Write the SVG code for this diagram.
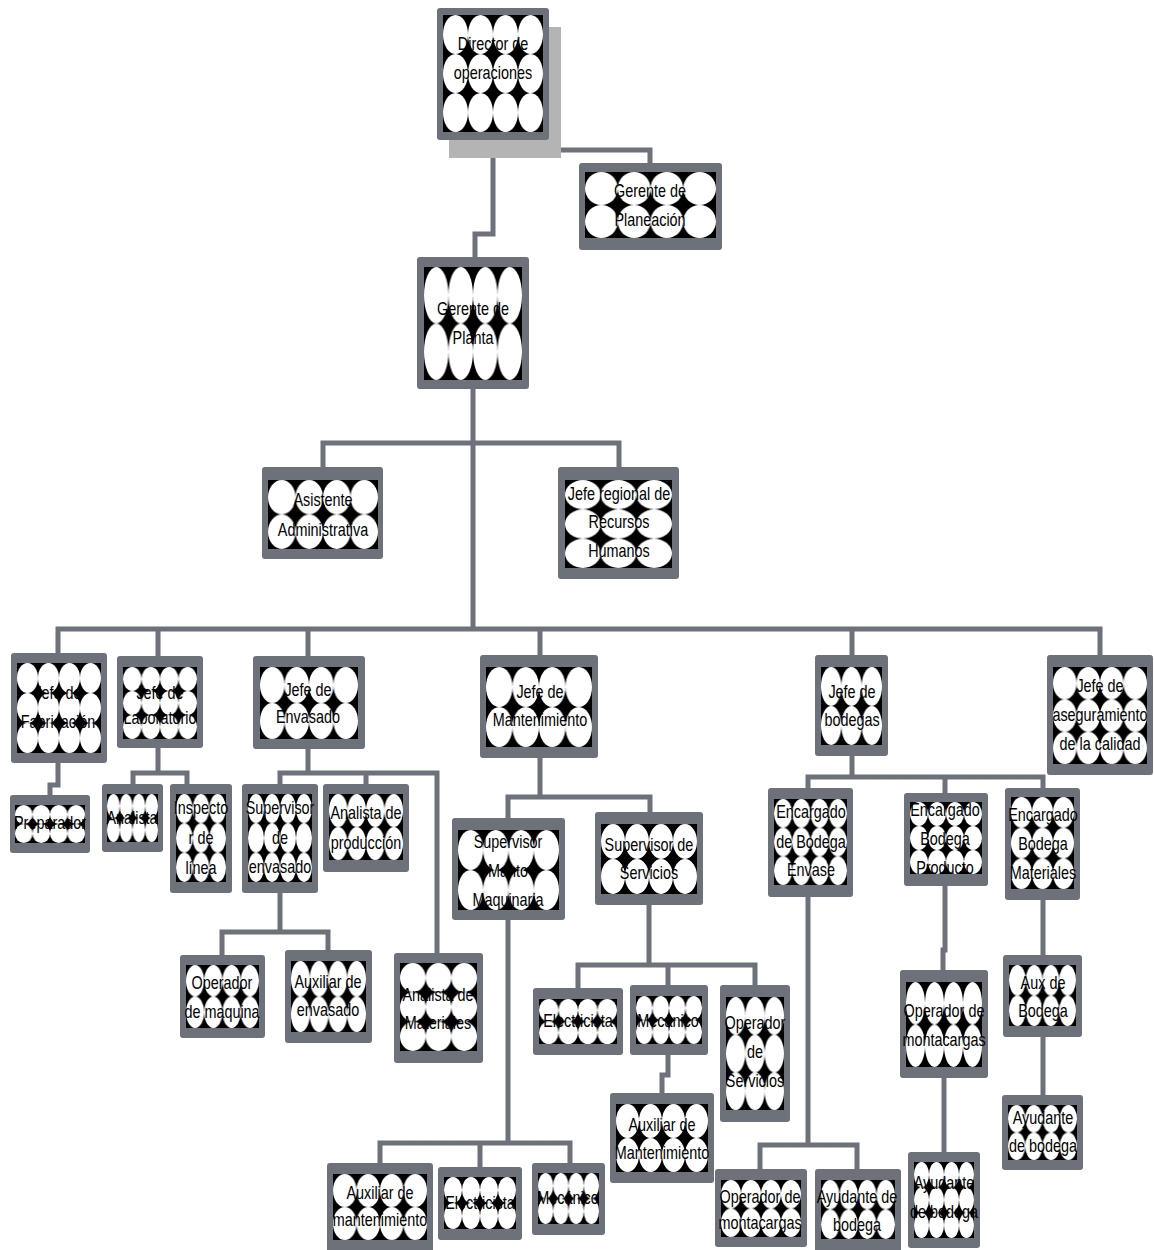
<svg xmlns="http://www.w3.org/2000/svg" width="1154" height="1250" viewBox="0 0 1154 1250">
<defs>
<pattern id="p42" patternUnits="objectBoundingBox" patternContentUnits="objectBoundingBox" width="0.25" height="0.5"><rect width="0.25" height="0.5" fill="#000"/><ellipse cx="0.125" cy="0.25" rx="0.125" ry="0.25" fill="#fff"/></pattern>
<pattern id="p33" patternUnits="objectBoundingBox" patternContentUnits="objectBoundingBox" width="0.3334" height="0.3334"><rect width="0.3334" height="0.3334" fill="#000"/><ellipse cx="0.1667" cy="0.1667" rx="0.1667" ry="0.1667" fill="#fff"/></pattern>
<pattern id="p43" patternUnits="objectBoundingBox" patternContentUnits="objectBoundingBox" width="0.25" height="0.3334"><rect width="0.25" height="0.3334" fill="#000"/><ellipse cx="0.125" cy="0.1667" rx="0.125" ry="0.1667" fill="#fff"/></pattern>
<pattern id="p32" patternUnits="objectBoundingBox" patternContentUnits="objectBoundingBox" width="0.3334" height="0.5"><rect width="0.3334" height="0.5" fill="#000"/><ellipse cx="0.1667" cy="0.25" rx="0.1667" ry="0.25" fill="#fff"/></pattern>
<pattern id="p44" patternUnits="objectBoundingBox" patternContentUnits="objectBoundingBox" width="0.25" height="0.25"><rect width="0.25" height="0.25" fill="#000"/><ellipse cx="0.125" cy="0.125" rx="0.125" ry="0.125" fill="#fff"/></pattern>
</defs>
<style>
.f{fill:#6c717a}
.c{fill:none;stroke:#6c717a;stroke-width:5}
.t{font-family:'Liberation Sans',Arial,sans-serif;font-size:18px;fill:#000;text-anchor:middle}
</style>
<rect width="1154" height="1250" fill="#fff"/>
<g id="connectors">
<path class="c" d="M493,140 V234 H475 V257"/>
<path class="c" d="M493,150 H650 V163"/>
<path class="c" d="M473,389 V629"/>
<path class="c" d="M323,467 V443 H619 V467"/>
<path class="c" d="M58,653 V629 H1100 V655"/>
<path class="c" d="M158,629 V656 M308,629 V656 M540,629 V655 M852,629 V655"/>
<path class="c" d="M58,763 V785 H50 V795"/>
<path class="c" d="M158,748 V773 M133,784 V773 H187 V784"/>
<path class="c" d="M308,749 V773 M280,784 V773 H437 V953 M366,773 V784"/>
<path class="c" d="M280,893 V932 M222,955 V932 H328 V950"/>
<path class="c" d="M540,758 V797 M508,818 V797 H650 V812"/>
<path class="c" d="M649,905 V965 M578,988 V965 H755 V985 M668,965 V985"/>
<path class="c" d="M668,1055 V1075 H662 V1093"/>
<path class="c" d="M508,920 V1143 M380,1163 V1143 H570 V1163 M480,1143 V1167"/>
<path class="c" d="M852,756 V777 M808,788 V777 H1043 V788 M945,777 V793"/>
<path class="c" d="M808,897 V1145 M760,1169 V1145 H857 V1169"/>
<path class="c" d="M945,886 V950 H943 V970"/>
<path class="c" d="M944,1078 V1152"/>
<path class="c" d="M1043,900 V955 M1043,1037 V1095"/>
</g>
<g id="n1"><rect x="449" y="27" width="112" height="131" fill="#b4b4b4"/><rect class="f" x="437" y="8" width="112" height="132" rx="3"/><rect x="443" y="15" width="100" height="117" fill="url(#p43)"/><text class="t" transform="translate(493,0) scale(0.8,1)"><tspan x="0" y="50">Director de</tspan><tspan x="0" y="79">operaciones</tspan></text></g>
<g id="n2"><rect class="f" x="579" y="163" width="143" height="87" rx="3"/><rect x="585" y="172" width="131" height="66" fill="url(#p42)"/><text class="t" transform="translate(650,0) scale(0.8,1)"><tspan x="0" y="197">Gerente de</tspan><tspan x="0" y="226">Planeación</tspan></text></g>
<g id="n3"><rect class="f" x="417" y="257" width="112" height="132" rx="3"/><rect x="424" y="267" width="98" height="113" fill="url(#p42)"/><text class="t" transform="translate(473,0) scale(0.8,1)"><tspan x="0" y="315">Gerente de</tspan><tspan x="0" y="344">Planta</tspan></text></g>
<g id="n4"><rect class="f" x="262" y="467" width="121" height="92" rx="3"/><rect x="268" y="480" width="110" height="69" fill="url(#p42)"/><text class="t" transform="translate(323,0) scale(0.8,1)"><tspan x="0" y="506">Asistente</tspan><tspan x="0" y="536">Administrativa</tspan></text></g>
<g id="n5"><rect class="f" x="558" y="467" width="121" height="112" rx="3"/><rect x="565" y="480" width="107" height="88" fill="url(#p33)"/><text class="t" transform="translate(619,0) scale(0.8,1)"><tspan x="0" y="500">Jefe regional de</tspan><tspan x="0" y="528">Recursos</tspan><tspan x="0" y="557">Humanos</tspan></text></g>
<g id="n6"><rect class="f" x="11" y="653" width="96" height="110" rx="3"/><rect x="17" y="663" width="84" height="90" fill="url(#p43)"/><text class="t" transform="translate(58,0) scale(0.8,1)"><tspan x="0" y="699">Jefe de</tspan><tspan x="0" y="728">Fabricación</tspan></text></g>
<g id="n7"><rect class="f" x="117" y="656" width="86" height="92" rx="3"/><rect x="123" y="667" width="74" height="72" fill="url(#p43)"/><text class="t" transform="translate(160,0) scale(0.8,1)"><tspan x="0" y="699">Jefe de</tspan><tspan x="0" y="724">Laboratorio</tspan></text></g>
<g id="n8"><rect class="f" x="253" y="656" width="112" height="93" rx="3"/><rect x="260" y="667" width="98" height="72" fill="url(#p42)"/><text class="t" transform="translate(308,0) scale(0.8,1)"><tspan x="0" y="696">Jefe de</tspan><tspan x="0" y="723">Envasado</tspan></text></g>
<g id="n9"><rect class="f" x="480" y="655" width="118" height="103" rx="3"/><rect x="486" y="667" width="106" height="80" fill="url(#p42)"/><text class="t" transform="translate(540,0) scale(0.8,1)"><tspan x="0" y="698">Jefe de</tspan><tspan x="0" y="726">Mantenimiento</tspan></text></g>
<g id="n10"><rect class="f" x="815" y="655" width="73" height="101" rx="3"/><rect x="821" y="667" width="61" height="78" fill="url(#p32)"/><text class="t" transform="translate(852,0) scale(0.8,1)"><tspan x="0" y="698">Jefe de</tspan><tspan x="0" y="726">bodegas</tspan></text></g>
<g id="n11"><rect class="f" x="1047" y="655" width="106" height="120" rx="3"/><rect x="1053" y="667" width="94" height="97" fill="url(#p43)"/><text class="t" transform="translate(1100,0) scale(0.8,1)"><tspan x="0" y="692">Jefe de</tspan><tspan x="0" y="721">aseguramiento</tspan><tspan x="0" y="750">de la calidad</tspan></text></g>
<g id="n12"><rect class="f" x="10" y="795" width="80" height="58" rx="3"/><rect x="15" y="805" width="70" height="38" fill="url(#p42)"/><text class="t" transform="translate(50,0) scale(0.8,1)"><tspan x="0" y="829">Preparador</tspan></text></g>
<g id="n13"><rect class="f" x="102" y="784" width="61" height="68" rx="3"/><rect x="107" y="794" width="51" height="48" fill="url(#p42)"/><text class="t" transform="translate(132,0) scale(0.8,1)"><tspan x="0" y="824">Analista</tspan></text></g>
<g id="n14"><rect class="f" x="170" y="784" width="62" height="109" rx="3"/><rect x="176" y="794" width="50" height="88" fill="url(#p33)"/><text class="t" transform="translate(201,0) scale(0.8,1)"><tspan x="0" y="814">Inspecto</tspan><tspan x="0" y="844">r de</tspan><tspan x="0" y="874">línea</tspan></text></g>
<g id="n15"><rect class="f" x="242" y="784" width="76" height="109" rx="3"/><rect x="248" y="794" width="64" height="88" fill="url(#p43)"/><text class="t" transform="translate(280,0) scale(0.8,1)"><tspan x="0" y="814">Supervisor</tspan><tspan x="0" y="844">de</tspan><tspan x="0" y="873">envasado</tspan></text></g>
<g id="n16"><rect class="f" x="323" y="784" width="86" height="88" rx="3"/><rect x="329" y="794" width="74" height="66" fill="url(#p42)"/><text class="t" transform="translate(366,0) scale(0.8,1)"><tspan x="0" y="819">Analista de</tspan><tspan x="0" y="849">producción</tspan></text></g>
<g id="n17"><rect class="f" x="180" y="955" width="85" height="83" rx="3"/><rect x="186" y="965" width="73" height="63" fill="url(#p42)"/><text class="t" transform="translate(222,0) scale(0.8,1)"><tspan x="0" y="989">Operador</tspan><tspan x="0" y="1018">de maquina</tspan></text></g>
<g id="n18"><rect class="f" x="285" y="950" width="87" height="93" rx="3"/><rect x="291" y="961" width="75" height="71" fill="url(#p42)"/><text class="t" transform="translate(328,0) scale(0.8,1)"><tspan x="0" y="988">Auxiliar de</tspan><tspan x="0" y="1016">envasado</tspan></text></g>
<g id="n19"><rect class="f" x="394" y="953" width="89" height="110" rx="3"/><rect x="400" y="963" width="77" height="88" fill="url(#p33)"/><text class="t" transform="translate(438,0) scale(0.8,1)"><tspan x="0" y="1001">Analista de</tspan><tspan x="0" y="1029">Materiales</tspan></text></g>
<g id="n20"><rect class="f" x="452" y="818" width="113" height="102" rx="3"/><rect x="458" y="830" width="101" height="80" fill="url(#p42)"/><text class="t" transform="translate(508,0) scale(0.8,1)"><tspan x="0" y="848">Supervisor</tspan><tspan x="0" y="877">Manto</tspan><tspan x="0" y="906">Maquinaria</tspan></text></g>
<g id="n21"><rect class="f" x="595" y="812" width="108" height="93" rx="3"/><rect x="601" y="824" width="96" height="70" fill="url(#p42)"/><text class="t" transform="translate(649,0) scale(0.8,1)"><tspan x="0" y="851">Supervisor de</tspan><tspan x="0" y="879">Servicios</tspan></text></g>
<g id="n22"><rect class="f" x="533" y="988" width="90" height="67" rx="3"/><rect x="539" y="999" width="78" height="45" fill="url(#p42)"/><text class="t" transform="translate(578,0) scale(0.8,1)"><tspan x="0" y="1027">Electricista</tspan></text></g>
<g id="n23"><rect class="f" x="630" y="985" width="78" height="70" rx="3"/><rect x="636" y="996" width="66" height="48" fill="url(#p42)"/><text class="t" transform="translate(668,0) scale(0.8,1)"><tspan x="0" y="1027">Mecanico</tspan></text></g>
<g id="n24"><rect class="f" x="720" y="985" width="70" height="137" rx="3"/><rect x="726" y="997" width="58" height="113" fill="url(#p33)"/><text class="t" transform="translate(755,0) scale(0.8,1)"><tspan x="0" y="1029">Operador</tspan><tspan x="0" y="1058">de</tspan><tspan x="0" y="1087">Servicios</tspan></text></g>
<g id="n25"><rect class="f" x="610" y="1093" width="104" height="90" rx="3"/><rect x="616" y="1104" width="92" height="68" fill="url(#p42)"/><text class="t" transform="translate(662,0) scale(0.8,1)"><tspan x="0" y="1131">Auxiliar de</tspan><tspan x="0" y="1159">Mantenimiento</tspan></text></g>
<g id="n26"><rect class="f" x="327" y="1163" width="106" height="90" rx="3"/><rect x="333" y="1174" width="94" height="66" fill="url(#p42)"/><text class="t" transform="translate(380,0) scale(0.8,1)"><tspan x="0" y="1199">Auxiliar de</tspan><tspan x="0" y="1226">mantenimiento</tspan></text></g>
<g id="n27"><rect class="f" x="438" y="1167" width="84" height="73" rx="3"/><rect x="444" y="1177" width="72" height="52" fill="url(#p42)"/><text class="t" transform="translate(480,0) scale(0.8,1)"><tspan x="0" y="1209">Electricista</tspan></text></g>
<g id="n28"><rect class="f" x="532" y="1163" width="73" height="72" rx="3"/><rect x="538" y="1173" width="61" height="51" fill="url(#p42)"/><text class="t" transform="translate(568,0) scale(0.8,1)"><tspan x="0" y="1204">Mecánico</tspan></text></g>
<g id="n29"><rect class="f" x="768" y="788" width="85" height="109" rx="3"/><rect x="774" y="799" width="73" height="86" fill="url(#p43)"/><text class="t" transform="translate(811,0) scale(0.8,1)"><tspan x="0" y="818">Encargado</tspan><tspan x="0" y="848">de Bodega</tspan><tspan x="0" y="876">Envase</tspan></text></g>
<g id="n30"><rect class="f" x="904" y="793" width="84" height="93" rx="3"/><rect x="910" y="802" width="72" height="72" fill="url(#p43)"/><text class="t" transform="translate(945,0) scale(0.8,1)"><tspan x="0" y="816">Encargado</tspan><tspan x="0" y="845">Bodega</tspan><tspan x="0" y="874">Producto</tspan></text></g>
<g id="n31"><rect class="f" x="1005" y="788" width="75" height="112" rx="3"/><rect x="1011" y="797" width="63" height="92" fill="url(#p33)"/><text class="t" transform="translate(1043,0) scale(0.8,1)"><tspan x="0" y="821">Encargado</tspan><tspan x="0" y="850">Bodega</tspan><tspan x="0" y="879">Materiales</tspan></text></g>
<g id="n32"><rect class="f" x="715" y="1169" width="92" height="78" rx="3"/><rect x="721" y="1180" width="80" height="57" fill="url(#p42)"/><text class="t" transform="translate(760,0) scale(0.8,1)"><tspan x="0" y="1203">Operador de</tspan><tspan x="0" y="1229">montacargas</tspan></text></g>
<g id="n33"><rect class="f" x="815" y="1169" width="86" height="84" rx="3"/><rect x="821" y="1180" width="74" height="59" fill="url(#p42)"/><text class="t" transform="translate(857,0) scale(0.8,1)"><tspan x="0" y="1203">Ayudante de</tspan><tspan x="0" y="1231">bodega</tspan></text></g>
<g id="n34"><rect class="f" x="900" y="970" width="88" height="108" rx="3"/><rect x="906" y="982" width="76" height="85" fill="url(#p42)"/><text class="t" transform="translate(944,0) scale(0.8,1)"><tspan x="0" y="1017">Operador de</tspan><tspan x="0" y="1046">montacargas</tspan></text></g>
<g id="n35"><rect class="f" x="908" y="1152" width="72" height="96" rx="3"/><rect x="914" y="1162" width="60" height="76" fill="url(#p43)"/><text class="t" transform="translate(944,0) scale(0.8,1)"><tspan x="0" y="1189">Ayudante</tspan><tspan x="0" y="1218">de bodega</tspan></text></g>
<g id="n36"><rect class="f" x="1003" y="955" width="79" height="82" rx="3"/><rect x="1009" y="965" width="67" height="61" fill="url(#p42)"/><text class="t" transform="translate(1043,0) scale(0.8,1)"><tspan x="0" y="989">Aux de</tspan><tspan x="0" y="1017">Bodega</tspan></text></g>
<g id="n37"><rect class="f" x="1002" y="1095" width="81" height="75" rx="3"/><rect x="1008" y="1105" width="69" height="55" fill="url(#p42)"/><text class="t" transform="translate(1043,0) scale(0.8,1)"><tspan x="0" y="1124">Ayudante</tspan><tspan x="0" y="1152">de bodega</tspan></text></g>
</svg>
